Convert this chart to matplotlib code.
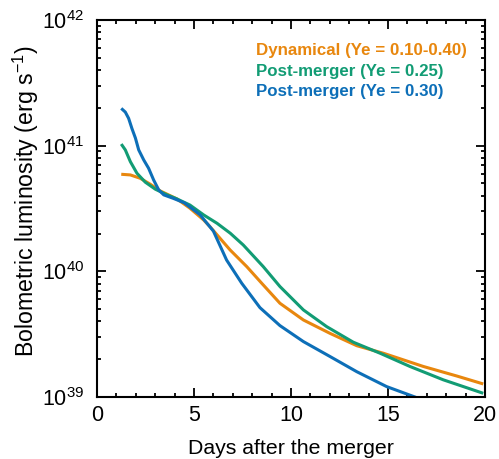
import matplotlib
matplotlib.use("Agg")
import matplotlib.pyplot as plt
from matplotlib.ticker import FixedLocator, FixedFormatter, LogLocator, NullFormatter, MultipleLocator

plt.rcParams['font.family'] = ['Liberation Sans', 'DejaVu Sans']

# Bolometric light curves (days after merger, erg/s)
dyn_days = [1.25, 1.72, 2.23, 2.75, 3.25, 4.12, 4.79, 5.50, 5.82, 6.86, 7.72, 8.49,
            9.43, 10.64, 12.01, 13.39, 14.76, 16.82, 18.54, 19.91]
dyn_lum = [5.92e40, 5.85e40, 5.50e40, 4.93e40, 4.37e40, 3.77e40, 3.18e40, 2.56e40,
           2.27e40, 1.48e40, 1.09e40, 8.04e39, 5.57e39, 4.10e39, 3.21e39, 2.56e39,
           2.23e39, 1.75e39, 1.47e39, 1.27e39]

pm25_days = [1.25, 1.46, 1.72, 2.06, 2.49, 3.01, 3.61, 4.12, 4.79, 5.50, 6.19, 6.87,
             7.54, 8.57, 9.43, 10.64, 11.84, 13.21, 14.59, 16.13, 17.85, 19.91]
pm25_lum = [1.03e41, 9.25e40, 7.46e40, 6.03e40, 5.12e40, 4.50e40, 4.06e40, 3.77e40,
            3.37e40, 2.81e40, 2.41e40, 2.01e40, 1.62e40, 1.09e40, 7.57e39, 4.93e39,
            3.63e39, 2.73e39, 2.23e39, 1.75e39, 1.37e39, 1.07e39]

pm30_days = [1.25, 1.46, 1.63, 1.80, 1.98, 2.15, 2.41, 2.66, 2.92, 3.18, 3.44, 3.93,
             4.50, 5.31, 6.00, 6.68, 7.46, 8.40, 9.43, 10.64, 12.01, 13.39, 14.93,
             16.39, 16.80]
pm30_lum = [1.98e41, 1.85e41, 1.65e41, 1.37e41, 1.15e41, 9.25e40, 7.69e40, 6.61e40,
            5.33e40, 4.45e40, 4.06e40, 3.81e40, 3.51e40, 2.82e40, 2.09e40, 1.23e40,
            8.04e39, 5.14e39, 3.70e39, 2.76e39, 2.10e39, 1.59e39, 1.21e39, 1.00e39,
            9.40e38]

labels = ['Dynamical (Ye = 0.10-0.40)', 'Post-merger (Ye = 0.25)', 'Post-merger (Ye = 0.30)']
colors = ['#E8870E', '#129C74', '#0D6FB8']

x_ticks = [0, 5, 10, 15, 20]
x_ticklabels = ['0', '5', '10', '15', '20']
y_ticks = [1e39, 1e40, 1e41, 1e42]
y_ticklabels = [r'$\mathregular{10^{39}}$', r'$\mathregular{10^{40}}$',
                r'$\mathregular{10^{41}}$', r'$\mathregular{10^{42}}$']

fig = plt.figure(figsize=(4.99, 4.59), dpi=100)
ax = fig.add_axes([97/499, 1-397/459, 388/499, 377/459])

series = [(dyn_days, dyn_lum), (pm25_days, pm25_lum), (pm30_days, pm30_lum)]
for (d, l), c in zip(series, colors):
    ax.plot(d, l, color=c, lw=2.2, solid_capstyle='butt', clip_on=True)

ax.set_yscale('log')
ax.set_xlim(0, 20)
ax.set_ylim(1e39, 1e42)

ax.xaxis.set_major_locator(FixedLocator(x_ticks))
ax.xaxis.set_major_formatter(FixedFormatter(x_ticklabels))
ax.xaxis.set_minor_locator(MultipleLocator(1))
ax.yaxis.set_major_locator(FixedLocator(y_ticks))
ax.yaxis.set_major_formatter(FixedFormatter(y_ticklabels))
ax.yaxis.set_minor_locator(LogLocator(base=10, subs=range(2, 10)))
ax.yaxis.set_minor_formatter(NullFormatter())

ax.tick_params(which='both', direction='in', top=True, right=True, width=1.3)
ax.tick_params(which='major', length=6.5)
ax.tick_params(which='minor', length=3.2)
ax.tick_params(axis='x', which='major', labelsize=15.5, pad=6)
ax.tick_params(axis='y', which='major', labelsize=15.5, pad=9)
for s in ax.spines.values():
    s.set_linewidth(1.5)

ax.set_xlabel('Days after the merger', fontsize=15.3, labelpad=9)
ax.set_ylabel(r'Bolometric luminosity (erg s$\mathregular{^{-1}}$)', fontsize=16.7, labelpad=1)
ax.yaxis.label.set_y(0.52)

ys = [0.907, 0.852, 0.799]
for t, c, y in zip(labels, colors, ys):
    ax.text(0.41, y, t, transform=ax.transAxes, color=c, fontsize=12.2,
            fontweight='bold', va='baseline', ha='left')

fig.savefig('out.png', dpi=100)
